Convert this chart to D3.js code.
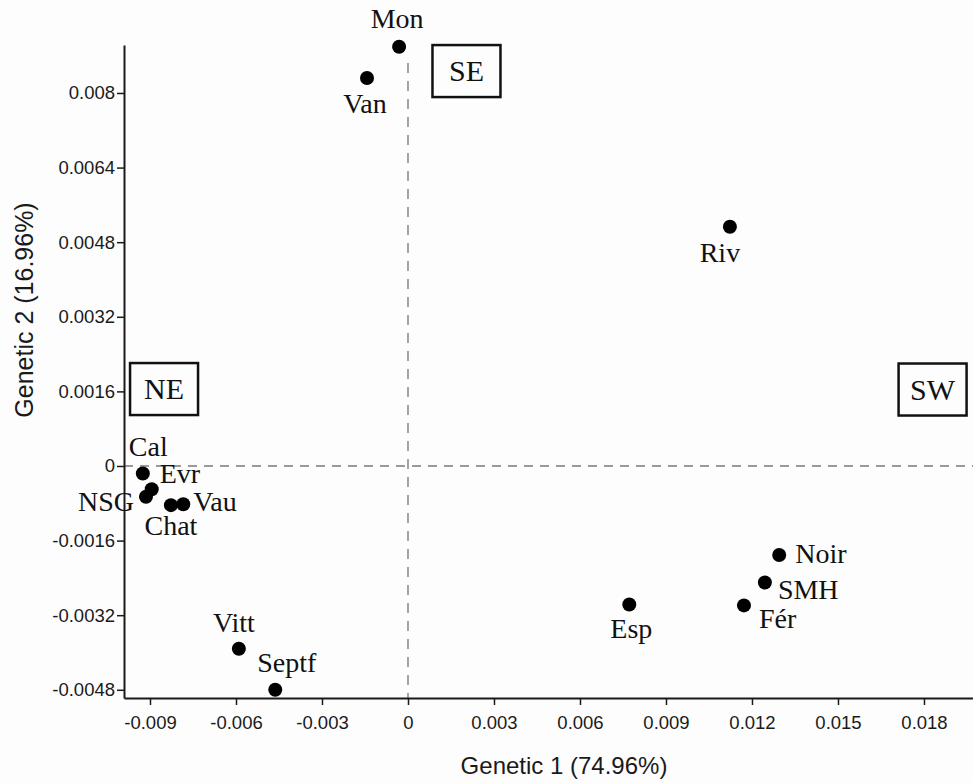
<!DOCTYPE html>
<html>
<head>
<meta charset="utf-8">
<script src="https://cdn.jsdelivr.net/npm/d3@7"></script>
<style>
  html, body { margin: 0; padding: 0; background: #fdfdfd; }
  svg { display: block; }
</style>
</head>
<body>
<div id="chart"></div>
<script>
// Populations and their coordinates on the first two PCoA axes
var sites = ['Mon', 'Van', 'Riv', 'Cal', 'Evr', 'NSG', 'Chat', 'Vau', 'Vitt', 'Septf', 'Noir', 'SMH', 'Fér', 'Esp'];
var genetic1 = [-0.00031, -0.00143, 0.01123, -0.00925, -0.00894, -0.00914, -0.00827, -0.00784, -0.0059, -0.00463, 0.01295, 0.01245, 0.01172, 0.00772];
var genetic2 = [0.00899, 0.00832, 0.00513, -0.00016, -0.0005, -0.00066, -0.00084, -0.00082, -0.00392, -0.0048, -0.00191, -0.0025, -0.00299, -0.00297];

var xTicks = [-0.009, -0.006, -0.003, 0, 0.003, 0.006, 0.009, 0.012, 0.015, 0.018];
var yTicks = [-0.0048, -0.0032, -0.0016, 0, 0.0016, 0.0032, 0.0048, 0.0064, 0.008];

var regionNames = ['NE', 'SE', 'SW'];

// layout only: where labels and region boxes sit
var labelPlace = {
  'Mon':   [-2, -19, 'middle'],
  'Van':   [-2, 35, 'middle'],
  'Riv':   [-10, 35, 'middle'],
  'Cal':   [-14, -17, 'start'],
  'Evr':   [8, -6, 'start'],
  'NSG':   [-12, 14, 'end'],
  'Chat':  [0, 30, 'middle'],
  'Vau':   [10, 7, 'start'],
  'Vitt':  [-5, -17, 'middle'],
  'Septf': [-18, -18, 'start'],
  'Noir':  [16, 8, 'start'],
  'SMH':   [13, 16, 'start'],
  'Fér':   [15, 23, 'start'],
  'Esp':   [2, 34, 'middle']
};
var regionPlace = {
  'NE': [-0.00851, 0.00165],
  'SE': [0.00204, 0.00847],
  'SW': [0.0183, 0.00164]
};

var attrs = {
  svgWidth: 973,
  svgHeight: 783,
  marginTop: 45,
  marginLeft: 124,
  marginRight: 0,
  marginBottom: 85,
  axisFont: '"Liberation Sans", Arial, sans-serif',
  labelFont: '"Liberation Serif", "Times New Roman", serif'
};

var chartWidth = attrs.svgWidth - attrs.marginLeft - attrs.marginRight;
var chartHeight = attrs.svgHeight - attrs.marginTop - attrs.marginBottom;

var x = d3.scaleLinear().domain([-0.009907, 0.01971]).range([0, chartWidth]);
var y = d3.scaleLinear().domain([-0.004976, 0.009029]).range([chartHeight, 0]);

var fmt = function (d) { return d === 0 ? '0' : String(+d.toFixed(4)); };

var svg = d3.select('#chart').append('svg')
  .attr('width', attrs.svgWidth)
  .attr('height', attrs.svgHeight)
  .style('background', '#fdfdfd');

var chart = svg.append('g')
  .attr('transform', 'translate(' + attrs.marginLeft + ',' + attrs.marginTop + ')');

// zero reference lines
chart.append('line')
  .attr('x1', 0).attr('x2', chartWidth)
  .attr('y1', y(0)).attr('y2', y(0))
  .attr('stroke', '#9a9a9a').attr('stroke-width', 1.8)
  .attr('stroke-dasharray', '9,7');

chart.append('line')
  .attr('x1', x(0)).attr('x2', x(0))
  .attr('y1', 18).attr('y2', chartHeight)
  .attr('stroke', '#9a9a9a').attr('stroke-width', 1.8)
  .attr('stroke-dasharray', '10,8');

// axes
var xAxis = chart.append('g')
  .attr('transform', 'translate(0,' + chartHeight + ')')
  .call(d3.axisBottom(x).tickValues(xTicks).tickFormat(fmt).tickSize(7).tickPadding(11).tickSizeOuter(0));

var yAxis = chart.append('g')
  .call(d3.axisLeft(y).tickValues(yTicks).tickFormat(fmt).tickSize(7).tickPadding(2).tickSizeOuter(0));

[xAxis, yAxis].forEach(function (a) {
  a.select('.domain').attr('stroke', '#1a1a1a').attr('stroke-width', 2);
  a.selectAll('.tick line').attr('stroke', '#1a1a1a').attr('stroke-width', 1.5);
  a.selectAll('.tick text')
    .attr('fill', '#1a1a1a')
    .style('font-family', attrs.axisFont)
    .style('font-size', '18.5px');
});

// axis titles
svg.append('text')
  .attr('x', 564).attr('y', 774)
  .attr('text-anchor', 'middle')
  .style('font-family', attrs.axisFont)
  .style('font-size', '24px')
  .attr('fill', '#1a1a1a')
  .text('Genetic 1 (74.96%)');

svg.append('text')
  .attr('transform', 'translate(33,310) rotate(-90)')
  .attr('text-anchor', 'middle')
  .style('font-family', attrs.axisFont)
  .style('font-size', '25px')
  .attr('fill', '#1a1a1a')
  .text('Genetic 2 (16.96%)');

// region boxes
var boxes = chart.selectAll('.region')
  .data(regionNames)
  .enter().append('g')
  .attr('class', 'region')
  .attr('transform', function (d) {
    return 'translate(' + x(regionPlace[d][0]) + ',' + y(regionPlace[d][1]) + ')';
  });

boxes.append('rect')
  .attr('x', -34).attr('y', -26)
  .attr('width', 68).attr('height', 52)
  .attr('fill', '#fdfdfd')
  .attr('stroke', '#111').attr('stroke-width', 2.5);

boxes.append('text')
  .attr('text-anchor', 'middle')
  .attr('dy', 10)
  .style('font-family', attrs.labelFont)
  .style('font-size', '30px')
  .attr('fill', '#111')
  .text(function (d) { return d; });

// points
var points = sites.map(function (s, i) {
  return { name: s, g1: genetic1[i], g2: genetic2[i] };
});

chart.selectAll('.pt')
  .data(points)
  .enter().append('circle')
  .attr('class', 'pt')
  .attr('cx', function (d) { return x(d.g1); })
  .attr('cy', function (d) { return y(d.g2); })
  .attr('r', 7)
  .attr('fill', '#000');

chart.selectAll('.pt-label')
  .data(points)
  .enter().append('text')
  .attr('class', 'pt-label')
  .attr('x', function (d) { return x(d.g1) + labelPlace[d.name][0]; })
  .attr('y', function (d) { return y(d.g2) + labelPlace[d.name][1]; })
  .attr('text-anchor', function (d) { return labelPlace[d.name][2]; })
  .style('font-family', attrs.labelFont)
  .style('font-size', '28px')
  .attr('fill', '#111')
  .text(function (d) { return d.name; });
</script>
</body>
</html>
